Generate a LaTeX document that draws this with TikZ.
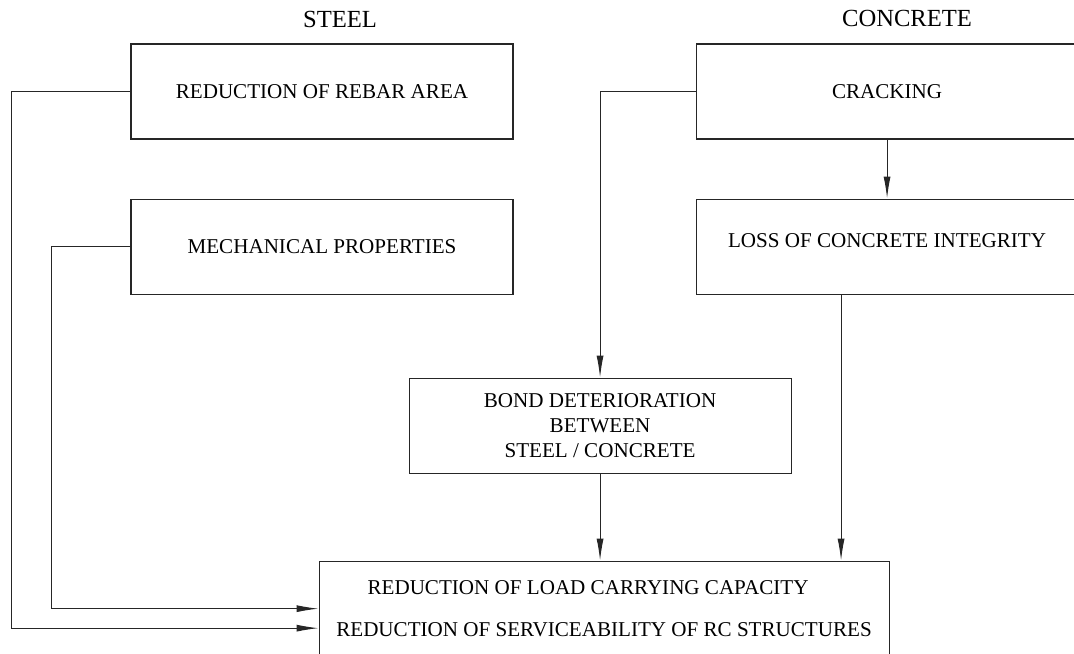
\documentclass[tikz,border=0pt]{standalone}
\usepackage{fontspec}
\setmainfont{Liberation Serif}
\usetikzlibrary{positioning,arrows.meta,calc}
\tikzset{
  fx box/.style={
    draw=black!85,
    line width=0.6pt,
    align=center,
    font=\fontsize{12}{14.2}\selectfont,
    inner sep=2pt,
    minimum width=7.64cm,
    minimum height=1.9cm
  },
  fx head/.style={font=\fontsize{14}{16}\selectfont, inner sep=0pt},
  fx arrow/.style={-{Latex[length=4.4mm,width=1.4mm]}, line width=0.6pt, black!85}
}
\begin{document}
\begin{tikzpicture}[node distance=1.18cm and 3.64cm]
\useasboundingbox (0,0) rectangle (21.48,-13.08);
\node[fx box] (rebar) at (6.44,-1.83) {REDUCTION OF REBAR AREA};
\node[fx box, below=of rebar] (mech) {MECHANICAL PROPERTIES};
\node[fx box, right=of rebar] (crack) {CRACKING};
\node[fx box, below=of crack, text depth=0.24cm] (loss) {LOSS OF CONCRETE INTEGRITY};
\node[fx box, below right=1.66cm and -2.1cm of mech] (bond) {BOND DETERIORATION\\BETWEEN\\STEEL / CONCRETE};
\node[fx box, below=1.74cm of bond, xshift=0.08cm, minimum width=11.4cm] (cap) {REDUCTION OF LOAD CARRYING CAPACITY\hspace*{0.64cm}\\[9.6pt]REDUCTION OF SERVICEABILITY OF RC STRUCTURES};
\node[fx head, above=0.3cm of rebar, xshift=0.36cm] (steel) {STEEL};
\node[fx head, above=0.32cm of crack, xshift=0.4cm] (conc) {CONCRETE};
\coordinate (capin) at ($(cap.west)+(0,-0.39)$);
\draw[fx arrow] (rebar.west) -- ++(-2.38,0) |- (capin);
\draw[fx arrow] (mech.west) -- ++(-1.58,0) |- (cap.west);
\draw[fx arrow] (crack.west) -| (bond.north);
\draw[fx arrow] (crack) -- (loss);
\draw[fx arrow] ([xshift=-0.92cm]loss.south) -- ([xshift=-0.92cm]loss.south |- cap.north);
\draw[fx arrow] (bond) -- (bond.south |- cap.north);
\end{tikzpicture}
\end{document}
